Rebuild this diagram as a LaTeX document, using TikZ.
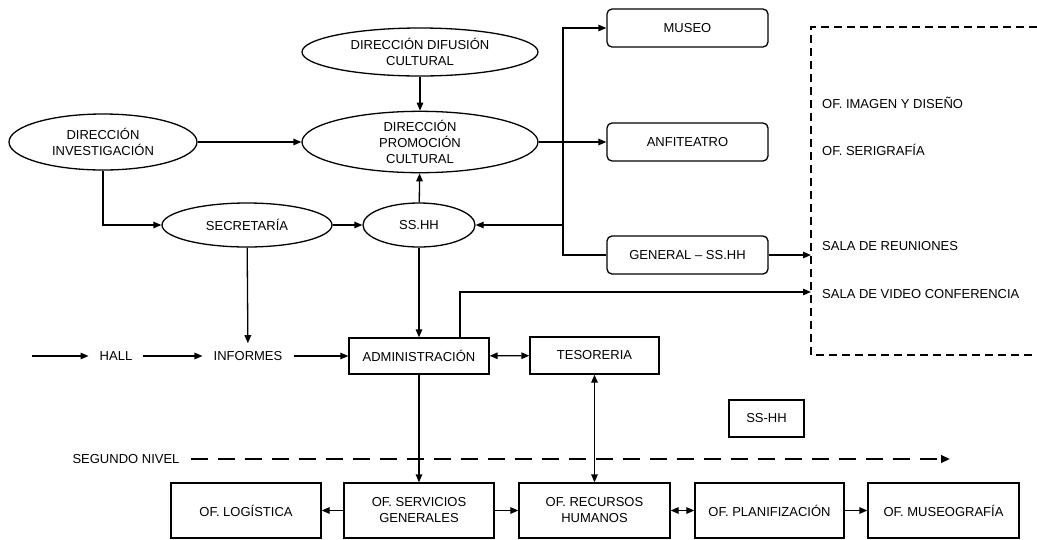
\documentclass[tikz,border=0pt]{standalone}
\usepackage{fontspec}
\setmainfont{Liberation Sans}
\usetikzlibrary{arrows.meta,shapes.geometric}
\newcommand{\txt}{\fontsize{13}{16}\selectfont}
\tikzset{oval/.style={draw, ellipse, line width=1.3pt, inner sep=0pt, align=center, font=\txt}, rbox/.style={draw, rectangle, rounded corners=5pt, line width=1.3pt, minimum width=161pt, minimum height=38pt, font=\txt}, sbox/.style={draw, rectangle, line width=1.3pt, inner sep=0pt, align=center, font=\txt}, lab/.style={inner xsep=11pt, inner ysep=8pt, font=\txt}, zlab/.style={anchor=west, inner sep=0pt, font=\txt}, arr/.style={-{Triangle[length=8pt,width=6.5pt]}, line width=1.3pt}, dbl/.style={{Triangle[length=8pt,width=6.5pt]}-{Triangle[length=8pt,width=6.5pt]}, line width=1.3pt}, lvl/.style={-{Triangle[length=9pt,width=7.5pt]}, line width=2.4pt, dash pattern=on 17pt off 10pt}, zone/.style={line width=1.3pt, dash pattern=on 8pt off 5pt}}
\begin{document}
\begin{tikzpicture}[x=1pt, y=-1pt]
\useasboundingbox (0,0) rectangle (1037,539);
\node[oval, minimum width=236pt, minimum height=48pt] (dif) at (420,52) {DIRECCIÓN DIFUSIÓN\\CULTURAL};
\node[oval, minimum width=236pt, minimum height=60pt] (prom) at (420,142) {DIRECCIÓN\\PROMOCIÓN\\CULTURAL};
\node[oval, minimum width=188pt, minimum height=56pt] (inv) at (103,142) {DIRECCIÓN\\INVESTIGACIÓN};
\node[oval, minimum width=170pt, minimum height=44pt] (sec) at (247,225) {SECRETARÍA};
\node[oval, minimum width=112pt, minimum height=44pt] (ss) at (419,225) {SS.HH};
\node[rbox] (mus) at (687.5,28) {MUSEO};
\node[rbox] (anf) at (687.5,142) {ANFITEATRO};
\node[rbox] (gen) at (687.5,255) {GENERAL – SS.HH};
\node[sbox, minimum width=140pt, minimum height=36pt] (adm) at (419,356) {ADMINISTRACIÓN};
\node[sbox, minimum width=129pt, minimum height=37pt] (tes) at (594.5,355.5) {TESORERIA};
\node[sbox, minimum width=75pt, minimum height=37pt] (wc) at (766.5,418.5) {SS-HH};
\node[sbox, minimum width=150pt, minimum height=55pt] (log) at (246,510.5) {OF. LOGÍSTICA};
\node[sbox, minimum width=150pt, minimum height=55pt] (ser) at (419,510.5) {OF. SERVICIOS\\GENERALES};
\node[sbox, minimum width=151pt, minimum height=55pt] (rec) at (594.5,510.5) {OF. RECURSOS\\HUMANOS};
\node[sbox, minimum width=149pt, minimum height=55pt] (pla) at (769.5,510.5) {OF. PLANIFIZACIÓN};
\node[sbox, minimum width=151pt, minimum height=55pt] (mug) at (943.5,510.5) {OF. MUSEOGRAFÍA};
\coordinate (in) at (32,356);
\node[lab] (hall) at (116,356) {HALL};
\node[lab] (inf) at (248,356) {INFORMES};
\node[lab] (niv) at (126,459) {SEGUNDO NIVEL};
\coordinate (nivend) at (950,459);
\coordinate (trk) at (563,142);
\coordinate (zn) at (811,27);
\coordinate (zs) at (811,355);
\draw[zone] (1037,27) -- (zn) -- (zs) -- (1037,355);
\node[zlab] (img) at (822,103) {OF. IMAGEN Y DISEÑO};
\node[zlab] (seri) at (822,150) {OF. SERIGRAFÍA};
\node[zlab] (reu) at (822,246) {SALA DE REUNIONES};
\node[zlab] (vid) at (822,294) {SALA DE VIDEO CONFERENCIA};
\draw[arr] (dif) -- (prom);
\draw[arr] (inv) -- (prom);
\draw[arr] (inv.south) |- (sec.west);
\draw[arr] (sec) -- (ss);
\draw[arr] (ss) -- (prom);
\draw[arr] (prom.east) -- (anf.west);
\draw[arr] (gen.west) -- (gen.west -| trk) |- (mus.west);
\draw[arr] (ss.east -| trk) -- (ss.east);
\draw[arr] (gen) -- (gen.east -| zn);
\draw[arr] ([xshift=41pt]adm.north) |- ([yshift=2pt]vid.west -| zn);
\draw[arr] (sec) -- (inf);
\draw[arr] (ss) -- (adm);
\draw[arr] (in) -- (hall);
\draw[arr] (hall) -- (inf);
\draw[arr] (inf) -- (adm);
\draw[dbl] (adm) -- (tes);
\draw[dbl] (tes) -- (rec);
\draw[arr] (adm) -- (ser);
\draw[arr] (ser) -- (log);
\draw[arr] (ser) -- (rec);
\draw[dbl] (rec) -- (pla);
\draw[arr] (pla) -- (mug);
\draw[lvl] (niv) -- (nivend);
\end{tikzpicture}
\end{document}
